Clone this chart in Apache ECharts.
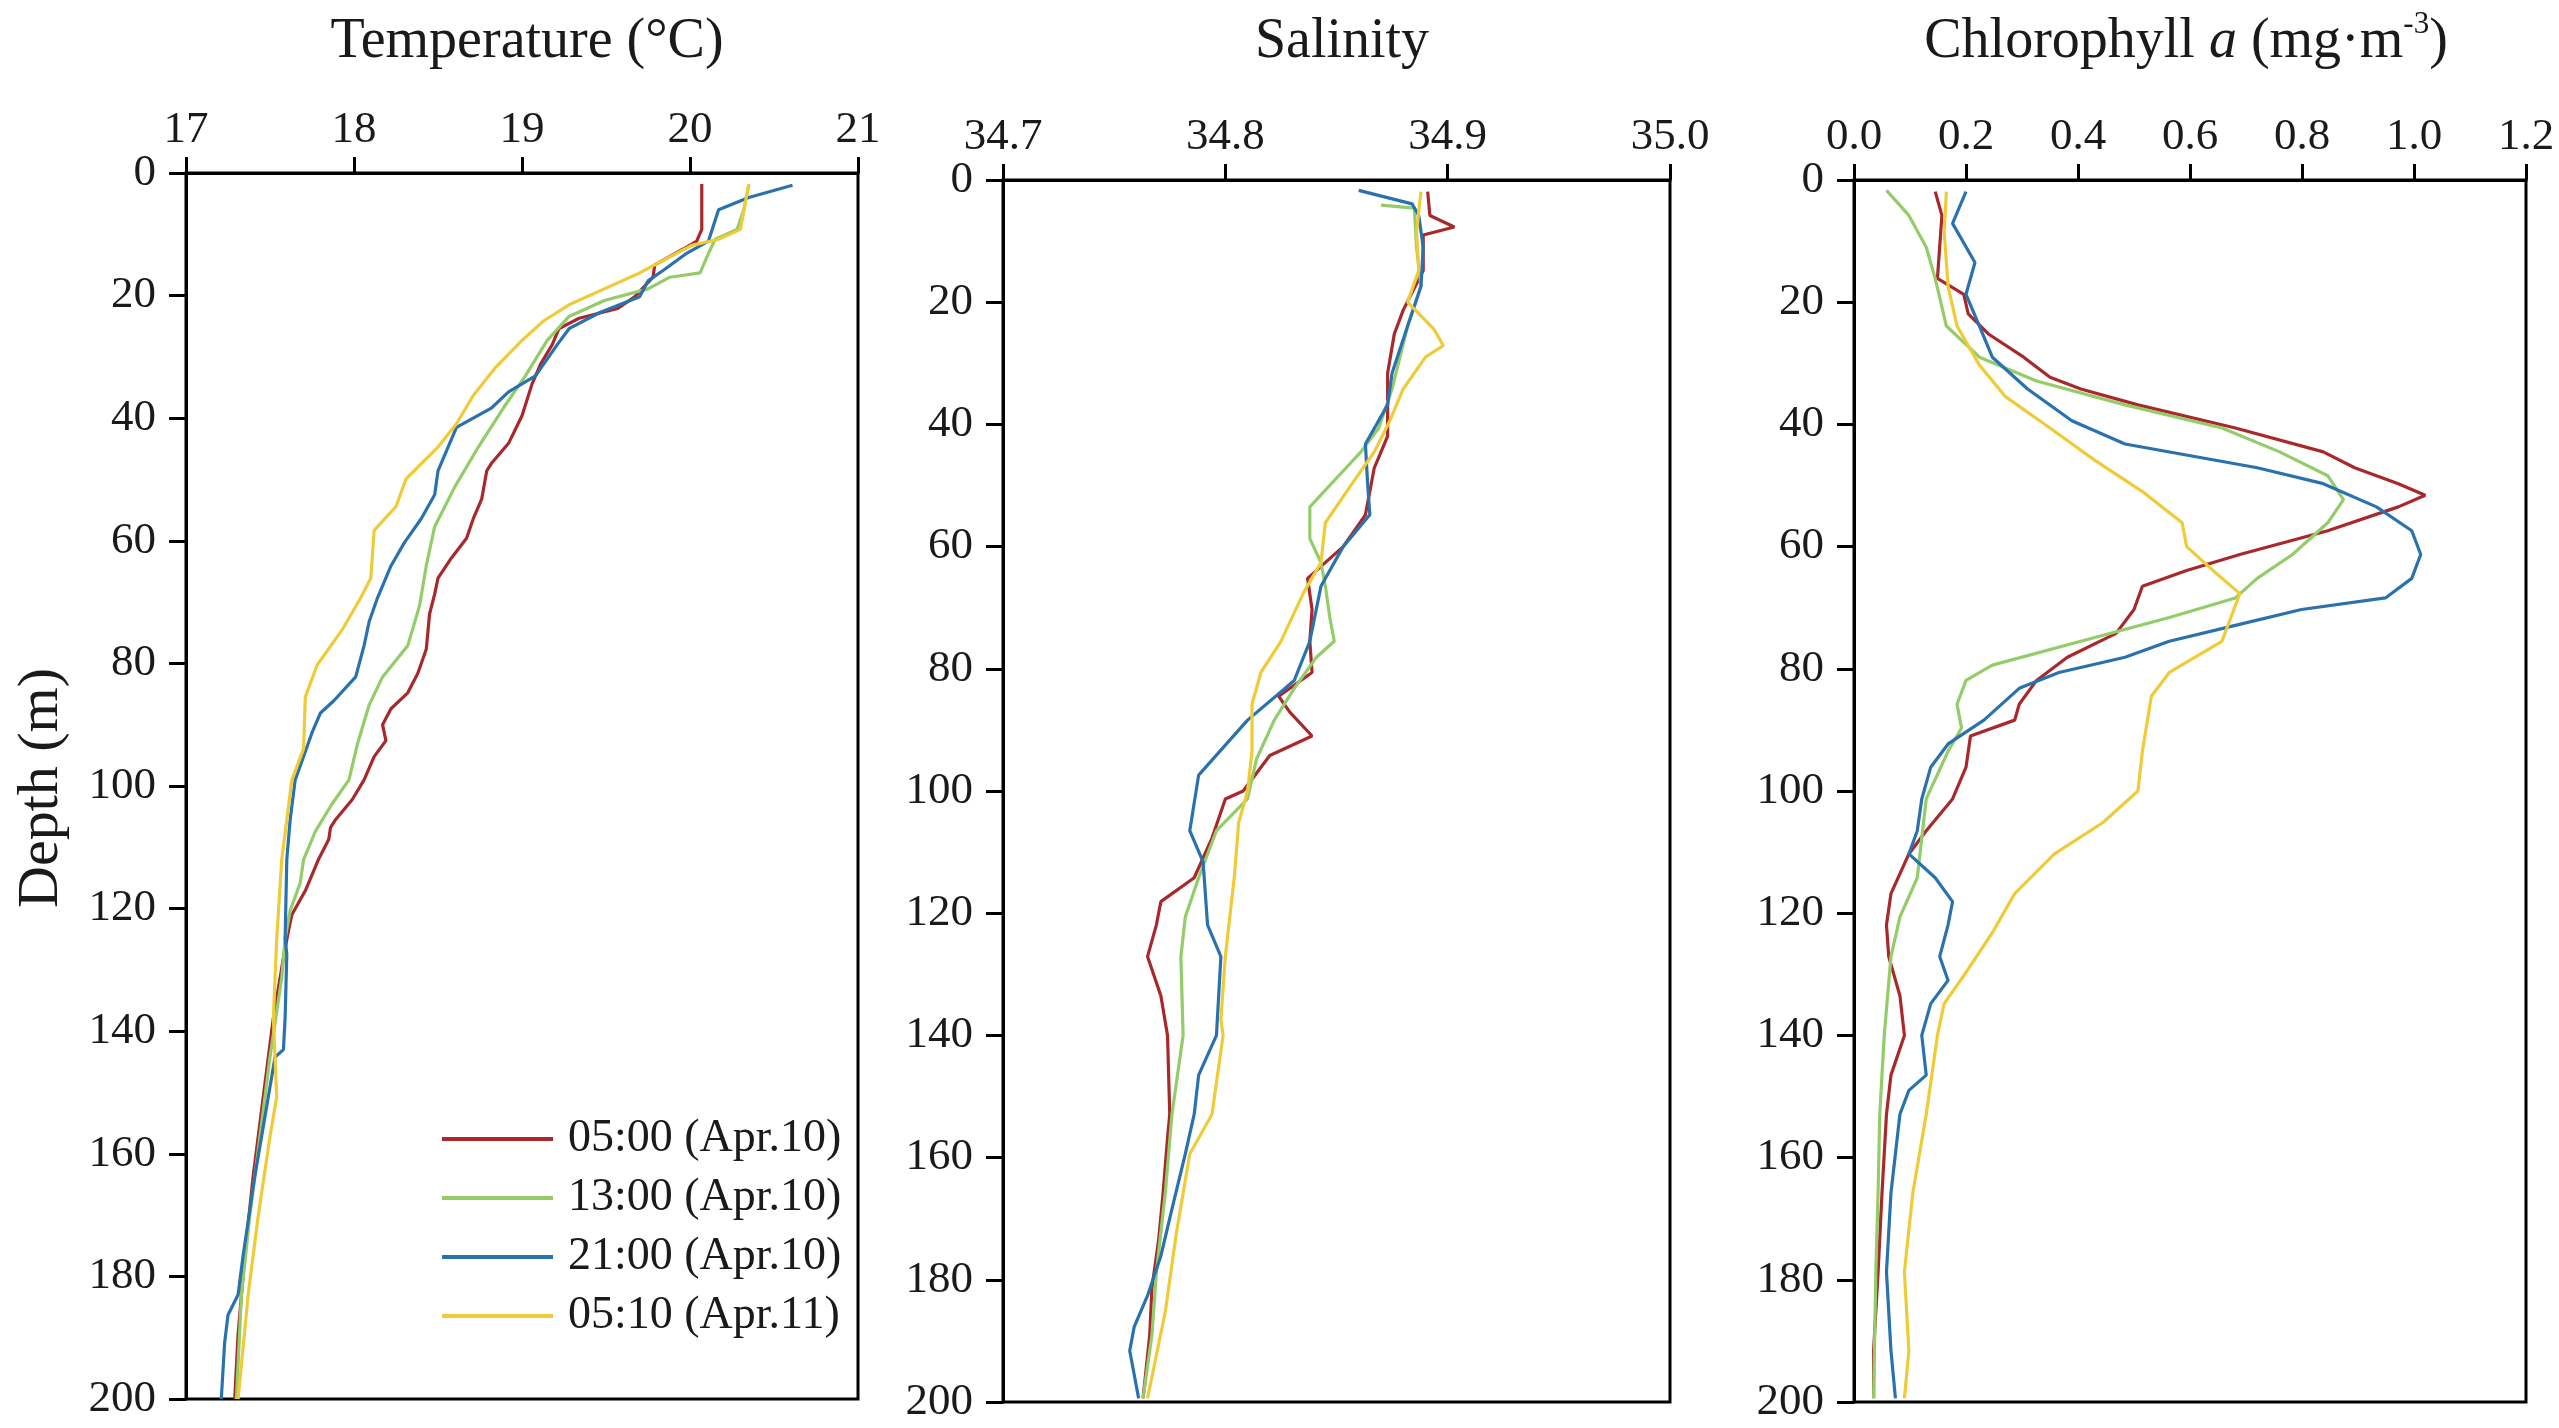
<!DOCTYPE html>
<html><head><meta charset="utf-8">
<script src="https://cdn.jsdelivr.net/npm/echarts@6/dist/echarts.min.js"></script>
<style>html,body{margin:0;padding:0;background:#fff}#c{width:2559px;height:1428px}</style>
</head><body><div id="c"></div>
<script>
// ---------- DATA ----------
const seriesNames = ['05:00 (Apr.10)', '13:00 (Apr.10)', '21:00 (Apr.10)', '05:10 (Apr.11)'];
const tempTicks = [17, 18, 19, 20, 21];
const salTicks = [34.7, 34.8, 34.9, 35.0];
const chlTicks = [0.0, 0.2, 0.4, 0.6, 0.8, 1.0, 1.2];
const depthTicks = [0, 20, 40, 60, 80, 100, 120, 140, 160, 180, 200];

// Temperature (°C)
const tempDepth05 = [1.8, 9.2, 11.1, 12.4, 15, 17, 20.2, 22.1, 23.7, 25.4, 28, 31.2, 34.4, 39.6, 44.1, 47.3, 48.6, 53.2, 56.4, 59.6, 62.8, 66.1, 68.7, 71.9, 77.7, 81.6, 84.8, 87.4, 90, 92.6, 95.2, 99, 102.2, 105.5, 106.8, 108.7, 111.9, 117.1, 121, 123.6, 128, 137.8, 150.7, 163.6, 176.6, 189.5, 200];
const tempVal05 = [20.07, 20.07, 20.04, 19.96, 19.79, 19.78, 19.67, 19.57, 19.34, 19.22, 19.18, 19.11, 19.06, 19.0, 18.92, 18.82, 18.79, 18.76, 18.71, 18.67, 18.58, 18.50, 18.48, 18.45, 18.43, 18.38, 18.32, 18.22, 18.17, 18.19, 18.12, 18.06, 17.99, 17.89, 17.86, 17.85, 17.79, 17.71, 17.63, 17.61, 17.58, 17.52, 17.46, 17.40, 17.35, 17.31, 17.29];
const tempDepth13 = [2, 6, 9.2, 10.8, 13.1, 16.3, 17, 18.9, 20.8, 23.4, 27.3, 33.1, 38.3, 44.7, 51.2, 57.7, 64.1, 70.6, 77.1, 82.2, 86.8, 93.2, 99, 102.9, 107.4, 112, 115.8, 120.3, 124.9, 131.3, 144.2, 157.2, 170.1, 183, 200];
const tempVal13 = [20.35, 20.32, 20.28, 20.15, 20.11, 20.06, 19.88, 19.75, 19.49, 19.28, 19.15, 19.02, 18.89, 18.74, 18.60, 18.48, 18.43, 18.39, 18.32, 18.17, 18.09, 18.02, 17.97, 17.87, 17.77, 17.70, 17.68, 17.62, 17.59, 17.57, 17.50, 17.44, 17.38, 17.33, 17.30];
const tempDepth21 = [2, 4, 6, 11.1, 13.1, 15.7, 17.6, 20.2, 22.8, 25.4, 28, 33.1, 35.7, 38.3, 41.5, 44.7, 48.6, 52.5, 56.4, 60.3, 64.1, 69.3, 73.2, 77.1, 82.2, 86.1, 88.1, 91.3, 95.2, 99, 105.5, 112, 124.9, 127.4, 137.8, 143, 144.2, 150.7, 163.6, 176.6, 183, 186.3, 190.8, 200];
const tempVal21 = [20.61, 20.35, 20.17, 20.11, 19.98, 19.85, 19.75, 19.70, 19.46, 19.28, 19.21, 19.08, 18.92, 18.82, 18.61, 18.56, 18.50, 18.48, 18.40, 18.30, 18.22, 18.14, 18.09, 18.06, 18.01, 17.88, 17.80, 17.75, 17.70, 17.65, 17.62, 17.60, 17.59, 17.60, 17.59, 17.58, 17.53, 17.49, 17.41, 17.34, 17.31, 17.25, 17.23, 17.21];
const tempDepth0510 = [1.8, 9.2, 10.8, 11.8, 14.4, 16.3, 18.9, 21.5, 24.1, 27.3, 31.8, 36.3, 40.9, 44.7, 48, 49.9, 54.4, 58.3, 66.1, 69.3, 74.5, 80.3, 85.5, 93.9, 99, 105.5, 112, 124.9, 137.8, 150.7, 157.2, 170.1, 183, 200];
const tempVal0510 = [20.35, 20.30, 20.17, 20.01, 19.83, 19.70, 19.49, 19.28, 19.13, 19.0, 18.84, 18.71, 18.61, 18.50, 18.38, 18.31, 18.25, 18.12, 18.10, 18.04, 17.93, 17.78, 17.71, 17.70, 17.63, 17.60, 17.57, 17.54, 17.52, 17.54, 17.50, 17.43, 17.37, 17.31];

// Salinity
const salDepth05 = [1.9, 5.8, 7.7, 9, 14.8, 21.3, 25.2, 31.6, 41.9, 47.1, 54.8, 60, 65.2, 70.3, 75.5, 80.6, 84.5, 87.1, 91, 94.2, 100, 101.3, 107.7, 114.2, 118.1, 121.9, 127.1, 133.5, 140, 152.9, 156.8, 165.8, 173.5, 181.3, 189, 199.4];
const salVal05 = [34.891, 34.892, 34.903, 34.889, 34.889, 34.880, 34.876, 34.873, 34.873, 34.867, 34.863, 34.853, 34.837, 34.839, 34.838, 34.839, 34.824, 34.829, 34.839, 34.820, 34.808, 34.800, 34.794, 34.786, 34.771, 34.769, 34.765, 34.771, 34.774, 34.775, 34.774, 34.772, 34.770, 34.767, 34.766, 34.763];
const salDepth13 = [4.1, 4.6, 11, 17.4, 23.9, 34.2, 40.6, 44.5, 48.4, 53.5, 58.7, 62.6, 66.5, 71.6, 75.5, 78.1, 83.2, 88.4, 94.8, 101.3, 106.5, 114.2, 120.6, 127.1, 140, 152.9, 165.8, 178.7, 189, 199.4];
const salVal13 = [34.870, 34.885, 34.886, 34.888, 34.882, 34.875, 34.869, 34.861, 34.851, 34.838, 34.838, 34.843, 34.845, 34.847, 34.849, 34.841, 34.831, 34.822, 34.814, 34.810, 34.796, 34.788, 34.782, 34.780, 34.781, 34.776, 34.773, 34.769, 34.767, 34.763];
const salDepth21 = [1.7, 3.9, 5.8, 11, 17.4, 23.9, 31.6, 36.8, 43.2, 49.7, 54.8, 60, 66.5, 75.5, 81.9, 88.4, 97.4, 106.5, 111.6, 121.9, 127.1, 140, 146.5, 152.9, 159.4, 168.4, 176.1, 182.6, 187.7, 191.6, 195.5, 199.4];
const salVal21 = [34.860, 34.884, 34.887, 34.889, 34.888, 34.882, 34.875, 34.873, 34.863, 34.864, 34.865, 34.853, 34.843, 34.838, 34.831, 34.810, 34.788, 34.784, 34.790, 34.792, 34.798, 34.796, 34.788, 34.786, 34.782, 34.776, 34.771, 34.765, 34.759, 34.757, 34.759, 34.761];
const salDepth0510 = [1.9, 8.4, 14.8, 20, 24.5, 27.1, 29, 34.2, 39.4, 44.5, 49.7, 56.1, 62.6, 67.7, 75.5, 80.6, 85.8, 93.5, 100, 105.2, 114.2, 127.1, 137.4, 140, 152.9, 159.4, 172.3, 185.2, 199.4];
const salVal0510 = [34.888, 34.886, 34.887, 34.882, 34.894, 34.898, 34.890, 34.880, 34.874, 34.867, 34.857, 34.845, 34.843, 34.835, 34.825, 34.816, 34.812, 34.812, 34.810, 34.806, 34.804, 34.800, 34.798, 34.799, 34.794, 34.784, 34.778, 34.773, 34.765];

// Chlorophyll a (mg·m-3)
const chlDepth05 = [1.9, 5.8, 11, 16.1, 18.7, 21.9, 25.2, 29, 32.3, 34.2, 36.8, 40.6, 44.5, 47.1, 49.7, 51.6, 53.5, 57.4, 61.3, 63.9, 66.5, 70.3, 74.2, 78.1, 81.9, 85.8, 88.4, 91, 96.1, 101.3, 106.5, 110.3, 116.8, 121.9, 127.1, 133.5, 140, 146.5, 152.9, 165.8, 178.7, 191.6, 199.4];
const chlVal05 = [0.145, 0.157, 0.153, 0.149, 0.196, 0.204, 0.240, 0.303, 0.350, 0.405, 0.507, 0.681, 0.838, 0.894, 0.972, 1.020, 0.972, 0.846, 0.689, 0.594, 0.515, 0.500, 0.468, 0.381, 0.326, 0.295, 0.287, 0.208, 0.200, 0.176, 0.129, 0.098, 0.066, 0.058, 0.062, 0.082, 0.090, 0.066, 0.058, 0.050, 0.043, 0.035, 0.035];
const chlDepth13 = [1.7, 5.8, 11, 16.1, 23.9, 29, 32.9, 36.8, 40.6, 44.5, 48.4, 52.3, 56.1, 61.3, 65.2, 68.4, 71.6, 75.5, 79.4, 81.9, 85.8, 89.7, 93.5, 101.3, 107.7, 114.2, 120.6, 127.1, 140, 152.9, 165.8, 178.7, 199.4];
const chlVal13 = [0.058, 0.098, 0.129, 0.145, 0.165, 0.224, 0.326, 0.484, 0.657, 0.760, 0.846, 0.874, 0.846, 0.783, 0.720, 0.681, 0.563, 0.405, 0.247, 0.200, 0.184, 0.192, 0.168, 0.129, 0.121, 0.113, 0.082, 0.066, 0.054, 0.046, 0.043, 0.039, 0.035];
const chlDepth21 = [1.9, 7.1, 13.5, 18.7, 23.9, 29, 34.2, 39.4, 43.2, 47.1, 49.7, 53.5, 57.4, 61.3, 65.2, 68.4, 70.3, 72.9, 75.5, 78.1, 80.6, 83.2, 88.4, 92.3, 96.1, 101.3, 106.5, 110.3, 114.2, 118.1, 121.9, 127.1, 131, 134.8, 140, 146.5, 149, 152.9, 165.8, 178.7, 191.6, 199.4];
const chlVal21 = [0.200, 0.176, 0.216, 0.200, 0.224, 0.247, 0.310, 0.389, 0.484, 0.720, 0.838, 0.933, 0.996, 1.012, 0.996, 0.949, 0.799, 0.681, 0.563, 0.484, 0.366, 0.295, 0.232, 0.168, 0.137, 0.121, 0.113, 0.098, 0.145, 0.176, 0.168, 0.153, 0.168, 0.137, 0.121, 0.129, 0.098, 0.082, 0.066, 0.058, 0.066, 0.074];
const chlDepth0510 = [1.9, 8.4, 17.4, 23.9, 30.3, 35.5, 40.6, 45.8, 51, 56.1, 60, 63.9, 67.7, 71.6, 75.5, 80.6, 84.5, 93.5, 100, 105.2, 110.3, 116.8, 123.2, 129.7, 134.8, 140, 152.9, 165.8, 178.7, 191.6, 199.4];
const chlVal0510 = [0.165, 0.161, 0.168, 0.184, 0.224, 0.271, 0.350, 0.429, 0.515, 0.586, 0.594, 0.641, 0.689, 0.673, 0.657, 0.563, 0.531, 0.515, 0.507, 0.444, 0.358, 0.287, 0.247, 0.200, 0.161, 0.149, 0.129, 0.105, 0.090, 0.098, 0.090];

// ---------- STYLE ----------
const colors = ['#a8282b', '#93cc68', '#2a72ae', '#f0cb38'];
const FONT = '"Liberation Serif", "Times New Roman", serif';
const TXT = '#1a1a1a';

const panels = [
  { title: 'Temperature (°C)', ticks: tempTicks, fmt: v => String(v), cx: 522,
    grid: { left: 186, top: 173, width: 672, height: 1226 },
    sets: [[tempVal05, tempDepth05], [tempVal13, tempDepth13], [tempVal21, tempDepth21], [tempVal0510, tempDepth0510]] },
  { title: 'Salinity', ticks: salTicks, fmt: v => v.toFixed(1), cx: 1337,
    grid: { left: 1003, top: 180, width: 667, height: 1222 },
    sets: [[salVal05, salDepth05], [salVal13, salDepth13], [salVal21, salDepth21], [salVal0510, salDepth0510]] },
  { title: 'Chlorophyll {i|a} (mg·m{sup|-3})', ticks: chlTicks, fmt: v => v.toFixed(1), cx: 2181,
    grid: { left: 1854, top: 180, width: 672, height: 1222 },
    sets: [[chlVal05, chlDepth05], [chlVal13, chlDepth13], [chlVal21, chlDepth21], [chlVal0510, chlDepth0510]] }
];

const axisLine = { show: true, lineStyle: { color: '#000', width: 3 } };
const grids = [], xAxes = [], yAxes = [], series = [], titles = [];
panels.forEach((p, gi) => {
  grids.push(Object.assign({ show: true, borderColor: '#000', borderWidth: 3, backgroundColor: '#fff' }, p.grid));
  const tk = p.ticks;
  const iv = +(tk[1] - tk[0]).toFixed(3);
  xAxes.push({
    type: 'value', gridIndex: gi, position: 'top', min: tk[0], max: tk[tk.length - 1], interval: iv,
    axisLine: axisLine,
    axisTick: { show: true, inside: false, length: 16, lineStyle: { color: '#000', width: 3 } },
    axisLabel: { show: true, margin: 20, fontSize: 45, fontFamily: FONT, color: TXT, formatter: p.fmt },
    splitLine: { show: false }
  });
  yAxes.push({
    type: 'value', gridIndex: gi, inverse: true, min: depthTicks[0], max: depthTicks[depthTicks.length - 1],
    interval: depthTicks[1] - depthTicks[0],
    axisLine: axisLine,
    axisTick: { show: true, inside: false, length: 17, lineStyle: { color: '#000', width: 3 } },
    axisLabel: { show: true, margin: 30, fontSize: 45, fontFamily: FONT, color: TXT },
    splitLine: { show: false }
  });
  p.sets.forEach((s, si) => {
    series.push({
      name: seriesNames[si], type: 'line', xAxisIndex: gi, yAxisIndex: gi,
      data: s[1].map((d, i) => [s[0][i], d]),
      showSymbol: false, symbol: 'none', smooth: false,
      lineStyle: { color: colors[si], width: 3.2 }, itemStyle: { color: colors[si] },
      animation: false, z: 3
    });
  });
  titles.push({
    text: p.title, left: p.cx, top: 4, textAlign: 'center',
    textStyle: {
      fontSize: 56, fontWeight: 'normal', fontFamily: FONT, color: TXT, lineHeight: 66,
      rich: {
        i: { fontSize: 56, fontStyle: 'italic', fontFamily: FONT, color: TXT, lineHeight: 66 },
        sup: { fontSize: 31, fontFamily: FONT, color: TXT, verticalAlign: 'top', lineHeight: 66, padding: [0, 0, 26, 0] }
      }
    }
  });
});

const chart = echarts.init(document.getElementById('c'), null, { renderer: 'canvas' });
chart.setOption({
  backgroundColor: '#fff',
  animation: false,
  title: titles,
  grid: grids,
  xAxis: xAxes,
  yAxis: yAxes,
  series: series,
  legend: {
    data: seriesNames, orient: 'vertical', left: 437, top: 1111,
    icon: 'rect', itemWidth: 111, itemHeight: 4, itemGap: 13,
    textStyle: { fontSize: 46, fontFamily: FONT, color: TXT, padding: [0, 0, 0, 10] }
  },
  graphic: [{
    type: 'text', x: 42, y: 788, rotation: Math.PI / 2,
    style: { text: 'Depth (m)', fontSize: 58, fontFamily: FONT, fill: TXT, textAlign: 'center', textVerticalAlign: 'middle' }
  }]
});
</script></body></html>
